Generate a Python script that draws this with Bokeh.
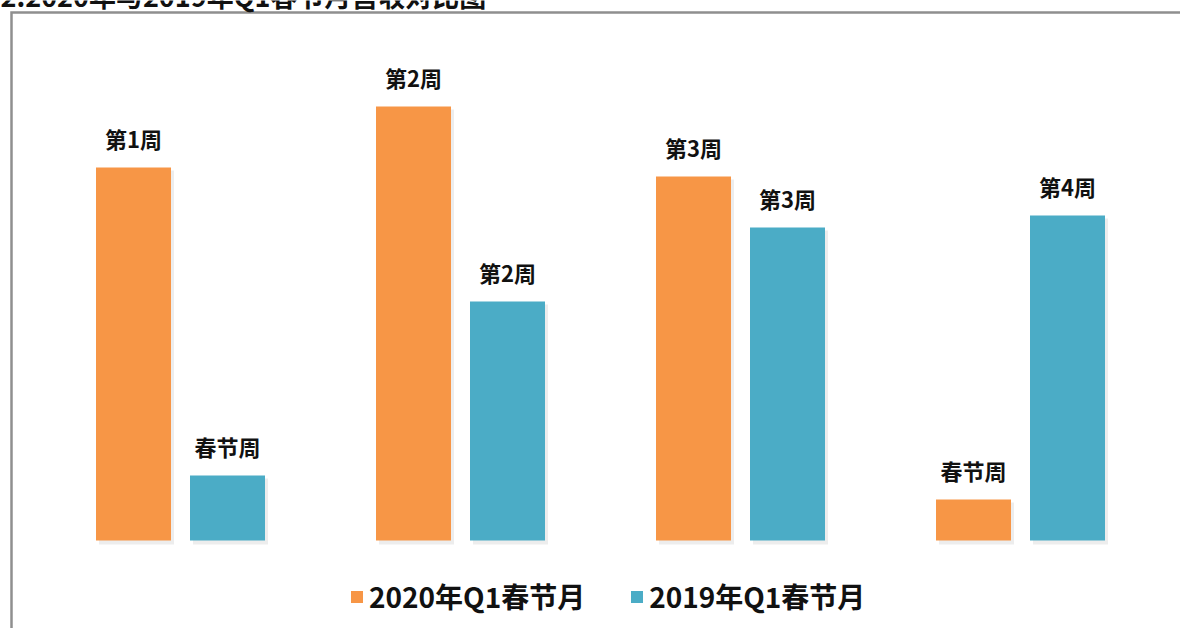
from bokeh.plotting import figure
from bokeh.models import Range1d, Legend, LegendItem, Label, ColumnDataSource
from bokeh.core.properties import value
from bokeh.embed import file_html
from bokeh.resources import INLINE

title_text = "2.2020年与2019年Q1春节月营收对比图"
series_names = ["2020年Q1春节月", "2019年Q1春节月"]
groups = [0, 1, 2, 3]
values_2020 = [373, 434, 364, 41]
values_2019 = [65, 239, 313, 325]
labels_2020 = ["第1周", "第2周", "第3周", "春节周"]
labels_2019 = ["春节周", "第2周", "第3周", "第4周"]
colors = ["#F79646", "#4BACC6"]

W, H = 1180, 628
UNIT = 280.0      # pixels per group
X0PX = 180.0      # pixel centre of first group
BASE = 540.0      # baseline pixel from top

def px_x(px):
    return (px - X0PX) / UNIT

def px_y(py):
    return BASE - py

p = figure(width=W, height=H, output_backend="svg", toolbar_location=None,
           x_range=Range1d(px_x(0), px_x(W)), y_range=Range1d(px_y(H), px_y(0)),
           x_axis_location=None, y_axis_location=None, min_border=0,
           min_border_left=0, min_border_right=0, min_border_top=0, min_border_bottom=0)
p.outline_line_color = None
p.xgrid.visible = False
p.ygrid.visible = False
p.background_fill_color = "white"
p.border_fill_color = "white"

# cut-off title at top
p.add_layout(Label(x=0, y=H + 5, x_units="screen", y_units="screen", text=title_text,
                   text_font="Noto Sans CJK SC", text_font_size="27px",
                   text_font_style="bold", text_color="#111111",
                   text_baseline="alphabetic"))

# frame border (partially visible box)
p.line([px_x(W + 20), px_x(11), px_x(11)], [px_y(12), px_y(12), px_y(H + 20)],
       line_color="#8f8f8f", line_width=2.5, line_join="miter")

bw = 75.0 / UNIT
off = 47.0 / UNIT
x20 = [g - off for g in groups]
x19 = [g + off for g in groups]
src20 = ColumnDataSource(dict(x=x20, top=values_2020, lab=labels_2020,
                              xs=[x + 3 / UNIT for x in x20], ts=[v - 3 for v in values_2020]))
src19 = ColumnDataSource(dict(x=x19, top=values_2019, lab=labels_2019,
                              xs=[x + 3 / UNIT for x in x19], ts=[v - 3 for v in values_2019]))

# soft shadows
for s in (src20, src19):
    p.vbar(x="xs", top="ts", bottom=-4, width=bw, source=s, fill_color="#000000",
           fill_alpha=0.07, line_color=None)

r20 = p.vbar(x="x", top="top", bottom=0, width=bw, source=src20,
             fill_color=colors[0], line_color=None)
r19 = p.vbar(x="x", top="top", bottom=0, width=bw, source=src19,
             fill_color=colors[1], line_color=None)

for s in (src20, src19):
    p.text(x="x", y="top", text="lab", source=s, text_align="center",
           text_baseline="bottom", y_offset=-14, text_font=value("Noto Sans CJK SC"),
           text_font_style="bold", text_font_size="22px", text_color="#111111")

legend = Legend(items=[LegendItem(label=series_names[0], renderers=[r20]),
                       LegendItem(label=series_names[1], renderers=[r19])],
                orientation="horizontal", location=(349, 12),
                border_line_color=None, background_fill_alpha=0,
                glyph_width=15, glyph_height=15, label_standoff=5, spacing=44,
                label_text_font="Noto Sans CJK SC", label_text_font_style="bold",
                label_text_font_size="28px", label_text_color="#111111",
                padding=0, margin=0)
p.add_layout(legend)

open("out.html", "w").write(file_html(p, INLINE))
